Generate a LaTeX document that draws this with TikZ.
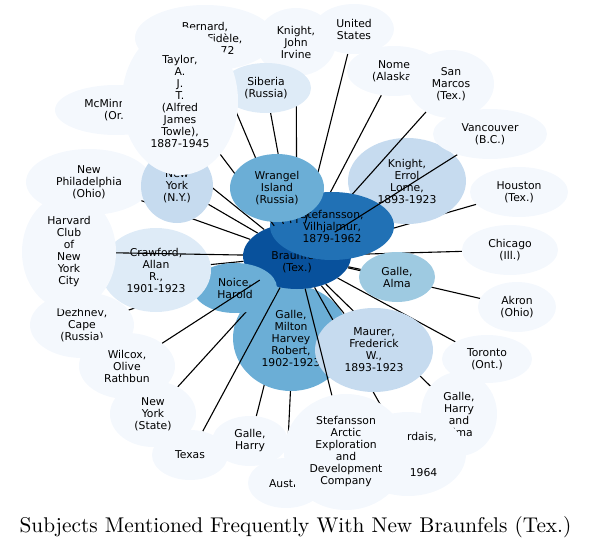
\documentclass[tikz,border=0pt]{standalone}
\usepackage{fontspec}
\usepackage{tikz}
\usetikzlibrary{shapes.geometric}
\newfontfamily\labelfont{DejaVu Sans}
\newfontfamily\titlefont{lmroman10-regular.otf}
\definecolor{blueA}{HTML}{08519C}
\definecolor{blueB}{HTML}{2171B5}
\definecolor{blueC}{HTML}{6BAED6}
\definecolor{blueD}{HTML}{9ECAE1}
\definecolor{blueE}{HTML}{C6DBEF}
\definecolor{blueF}{HTML}{DEEBF7}
\definecolor{blueG}{HTML}{F4F8FD}
\pgfdeclarelayer{edgesA}
\pgfdeclarelayer{nodesA}
\pgfdeclarelayer{edgesB}
\pgfdeclarelayer{nodesB}
\pgfdeclarelayer{edgesC}
\pgfdeclarelayer{edgesD}
\pgfsetlayers{edgesA,nodesA,edgesB,nodesB,edgesC,main,edgesD}

\begin{document}
\begin{tikzpicture}[
x=1pt, y=-1pt,
topic/.style={
ellipse,
fill=blueG,
inner sep=0pt,
align=center,
font=\labelfont\fontsize{10.8}{12}\selectfont
},
link/.style={
draw=black,
line width=1.1pt
}
]
\useasboundingbox (0,0) rectangle (591,548);

\begin{pgfonlayer}{nodesA}
\node[topic, fill=blueC, minimum width=116pt, minimum height=106pt] (gallemilton) at (291,338)
{Galle,\\Milton\\Harvey\\Robert,\\1902-1923};
\node[topic, fill=blueE, minimum width=118pt, minimum height=86pt] (knighterrol) at (407,181)
{Knight,\\Errol\\Lorne,\\1893-1923};
\end{pgfonlayer}

\begin{pgfonlayer}{nodesB}
\node[topic, fill=blueA, minimum width=108pt, minimum height=66pt] (braunfels) at (297,256)
{New\\Braunfels\\(Tex.)};
\node[topic, fill=blueB, minimum width=124pt, minimum height=68pt] (stefansson) at (332,226)
{Stefansson,\\Vilhjalmur,\\1879-1962};
\end{pgfonlayer}

\node[topic, fill=blueC, minimum width=84pt, minimum height=50pt] (noice) at (235,288)
{Noice,\\Harold};
\node[topic, fill=blueE, minimum width=118pt, minimum height=84pt] (maurer) at (374,350)
{Maurer,\\Frederick\\W.,\\1893-1923};
\node[topic, fill=blueD, minimum width=76pt, minimum height=50pt] (gallealma) at (397,277)
{Galle,\\Alma};
\node[topic, fill=blueC, minimum width=94pt, minimum height=68pt] (wrangel) at (277,188)
{Wrangel\\Island\\(Russia)};
\node[topic, minimum width=140pt, minimum height=66pt] (bernard) at (205,38)
{Bernard,\\Joseph-Fidèle,\\1880-1972};
\node[topic, minimum width=80pt, minimum height=68pt] (knightjohn) at (296,42)
{Knight,\\John\\Irvine};
\node[topic, minimum width=80pt, minimum height=50pt] (unitedstates) at (354,29)
{United\\States};
\node[topic, minimum width=94pt, minimum height=50pt] (nome) at (394,71)
{Nome\\(Alaska)};
\node[topic, minimum width=86pt, minimum height=68pt] (sanmarcos) at (451,84)
{San\\Marcos\\(Tex.)};
\node[topic, minimum width=114pt, minimum height=50pt] (vancouver) at (490,134)
{Vancouver\\(B.C.)};
\node[topic, minimum width=98pt, minimum height=50pt] (houston) at (519,192)
{Houston\\(Tex.)};
\node[topic, minimum width=96pt, minimum height=50pt] (chicago) at (510,250)
{Chicago\\(Ill.)};
\node[topic, minimum width=78pt, minimum height=50pt] (akron) at (517,307)
{Akron\\(Ohio)};
\node[topic, minimum width=90pt, minimum height=48pt] (toronto) at (487,359)
{Toronto\\(Ont.)};
\node[topic, minimum width=76pt, minimum height=84pt] (galleharryalma) at (459,414)
{Galle,\\Harry\\and\\Alma};
\node[topic, minimum width=116pt, minimum height=84pt] (rdais) at (408,454)
{\hspace*{28pt}rdais,\\[24pt]\hspace*{31pt}1964};
\node[topic, minimum width=76pt, minimum height=50pt] (austin) at (286,483)
{Austin};
\node[topic, minimum width=124pt, minimum height=116pt] (arcticcompany) at (346,452)
{Stefansson\\Arctic\\Exploration\\and\\Development\\Company};
\node[topic, minimum width=76pt, minimum height=50pt] (galleharry) at (250,441)
{Galle,\\Harry};
\node[topic, minimum width=76pt, minimum height=50pt] (texas) at (190,455)
{Texas};
\node[topic, minimum width=86pt, minimum height=66pt] (newyorkstate) at (153,414)
{New\\York\\(State)};
\node[topic, minimum width=104pt, minimum height=66pt] (dezhnev) at (82,325)
{Dezhnev,\\Cape\\(Russia)};
\node[topic, minimum width=96pt, minimum height=66pt] (wilcox) at (127,366)
{Wilcox,\\Olive\\Rathbun};
\node[topic, fill=blueF, minimum width=110pt, minimum height=84pt] (crawford) at (156,270)
{Crawford,\\Allan\\R.,\\1901-1923};
\node[topic, minimum width=94pt, minimum height=116pt] (harvard) at (69,252)
{Harvard\\Club\\of\\New\\York\\City};
\node[topic, minimum width=126pt, minimum height=66pt] (newphiladelphia) at (89,182)
{New\\Philadelphia\\(Ohio)};
\node[topic, minimum width=122pt, minimum height=50pt] (mcminnville) at (116,110)
{McMinnville\\(Or.)};
\node[topic, fill=blueE, minimum width=72pt, minimum height=74pt] (newyorkcity) at (177,186)
{New\\York\\(N.Y.)};
\node[topic, fill=blueF, minimum width=90pt, minimum height=50pt] (siberia) at (266,88)
{Siberia\\(Russia)};
\node[topic, minimum width=116pt, minimum height=148pt] (taylor) at (180,101)
{Taylor,\\A.\\J.\\T.\\(Alfred\\James\\Towle),\\1887-1945};

\node[anchor=base, font=\titlefont\fontsize{21.3}{25}\selectfont] (title) at (295.5,532)
{Subjects Mentioned Frequently With New Braunfels (Tex.)};

\begin{pgfonlayer}{edgesA}
\foreach \n in {nome,houston,chicago,akron,knighterrol,gallealma,galleharry,austin,dezhnev,crawford,newphiladelphia,mcminnville,newyorkcity,wrangel,stefansson,noice,gallemilton,toronto}
\draw[link] (braunfels) -- (\n);
\end{pgfonlayer}

\begin{pgfonlayer}{edgesB}
\foreach \n in {sanmarcos,newyorkstate,texas,maurer,galleharryalma,rdais}
\draw[link] (braunfels) -- (\n);
\end{pgfonlayer}

\begin{pgfonlayer}{edgesC}
\foreach \n in {unitedstates,knightjohn,siberia,taylor,bernard,vancouver}
\draw[link] (braunfels) -- (\n);
\end{pgfonlayer}

\begin{pgfonlayer}{edgesD}
\foreach \n in {wilcox,harvard,arcticcompany}
\draw[link] (braunfels) -- (\n);
\end{pgfonlayer}

\end{tikzpicture}
\end{document}
